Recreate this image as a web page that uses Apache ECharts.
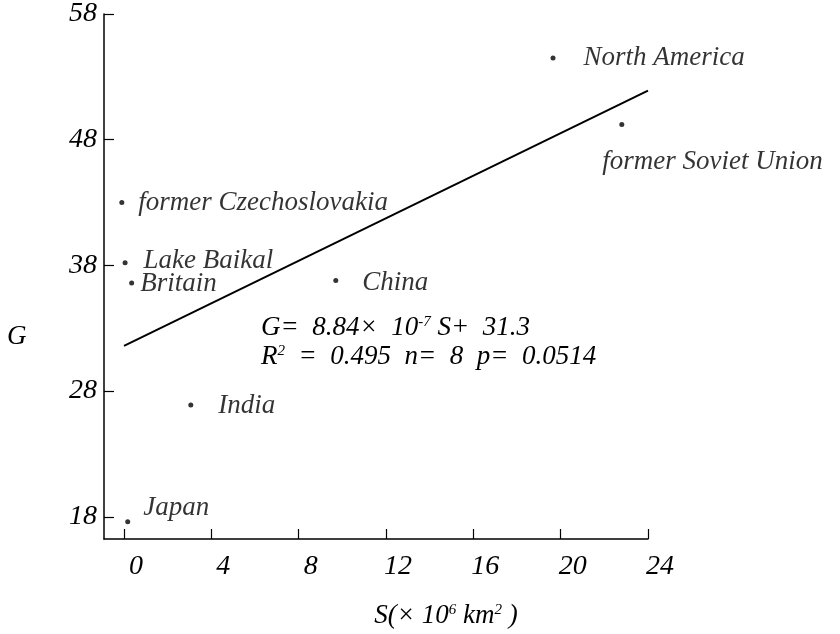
<!DOCTYPE html>
<html>
<head>
<meta charset="utf-8">
<script src="https://cdn.jsdelivr.net/npm/echarts@6/dist/echarts.min.js"></script>
<style>html,body{margin:0;padding:0;background:#fff}#c{width:840px;height:634px}</style>
</head>
<body>
<div id="c"></div>
<script>
// ---- data ----
const regions = ['North America', 'former Soviet Union', 'former Czechoslovakia', 'Lake Baikal', 'Britain', 'China', 'India', 'Japan'];
const areaS = [19.65, 22.8, -0.1, 0.05, 0.35, 9.7, 3.06, 0.17];   // S (×10^6 km²)
const valueG = [54.5, 49.2, 43.0, 38.2, 36.6, 36.8, 26.9, 17.6];  // G
const fitS = [0, 24];
const fitG = [31.6, 51.9];
const xTicks = [0, 4, 8, 12, 16, 20, 24];
const yTicks = [18, 28, 38, 48, 58];

// ---- label layout (style only) ----
const labelLayout = {
  'North America': {distance: 28, offset: [0, 0]},
  'former Soviet Union': {distance: 0, offset: [-22, 37]},
  'former Czechoslovakia': {distance: 14, offset: [0, 0]},
  'Lake Baikal': {distance: 16, offset: [0, -2]},
  'Britain': {distance: 6, offset: [0, 1]},
  'China': {distance: 24, offset: [0, 2]},
  'India': {distance: 25, offset: [0, 1]},
  'Japan': {distance: 13, offset: [0, -14]}
};

const FONT = '"Liberation Serif", "Times New Roman", serif';
const FS = 27;
const TFS = 28;

const scatterData = regions.map((n, i) => ({
  name: n,
  value: [areaS[i], valueG[i]],
  label: {
    show: true, position: 'right',
    distance: labelLayout[n].distance, offset: labelLayout[n].offset,
    formatter: '{b}'
  }
}));

const richStyles = {
  n: {fontFamily: FONT, fontStyle: 'italic', fontSize: FS, fill: '#000', color: '#000'},
  s: {fontFamily: FONT, fontStyle: 'italic', fontSize: 15, fill: '#000', color: '#000', verticalAlign: 'top'}
};

const chart = echarts.init(document.getElementById('c'), null, {renderer: 'canvas'});
chart.setOption({
  backgroundColor: '#ffffff',
  animation: false,
  grid: {left: 104, right: 192, top: 11, bottom: 95},
  xAxis: {
    type: 'value', min: -0.916, max: 24,
    axisLine: {show: true, onZero: false, lineStyle: {color: '#000', width: 1.5}},
    axisTick: {show: true, inside: true, length: 10, customValues: xTicks, lineStyle: {color: '#000', width: 1.2}},
    axisLabel: {customValues: xTicks, color: '#000', fontFamily: FONT, fontStyle: 'italic', fontSize: TFS, margin: 14, padding: [0, 0, 0, 24]},
    splitLine: {show: false}
  },
  yAxis: {
    type: 'value', min: 16.23, max: 58,
    axisLine: {show: true, onZero: false, lineStyle: {color: '#000', width: 1.5}},
    axisTick: {show: true, inside: true, length: 10, customValues: yTicks, lineStyle: {color: '#000', width: 1.2}},
    axisLabel: {customValues: yTicks, color: '#000', fontFamily: FONT, fontStyle: 'italic', fontSize: TFS, margin: 7},
    splitLine: {show: false}
  },
  series: [
    {
      type: 'scatter',
      symbol: 'circle', symbolSize: 5,
      itemStyle: {color: '#000'},
      label: {color: '#000', fontFamily: FONT, fontStyle: 'italic', fontSize: FS},
      data: scatterData,
      z: 3
    },
    {
      type: 'line',
      data: fitS.map((s, i) => [s, fitG[i]]),
      symbol: 'none',
      lineStyle: {color: '#000', width: 2},
      silent: true,
      z: 2
    }
  ],
  graphic: [
    {type: 'text', x: 7, y: 337, style: {text: 'G', fill: '#000', font: 'italic 27px ' + FONT, verticalAlign: 'middle'}},
    {type: 'text', x: 446, y: 616, style: {
      text: '{n|S(× 10}{s|6}{n| km}{s|2}{n| )}',
      align: 'center', verticalAlign: 'middle', rich: richStyles
    }},
    {type: 'text', x: 261, y: 328, style: {
      text: '{n|G=  8.84×  10}{s|-7}{n| S+  31.3}',
      align: 'left', verticalAlign: 'middle', rich: richStyles
    }},
    {type: 'text', x: 261, y: 357, style: {
      text: '{n|R}{s|2}{n|  =  0.495  n=  8  p=  0.0514}',
      align: 'left', verticalAlign: 'middle', rich: richStyles
    }}
  ]
});
</script>
</body>
</html>
